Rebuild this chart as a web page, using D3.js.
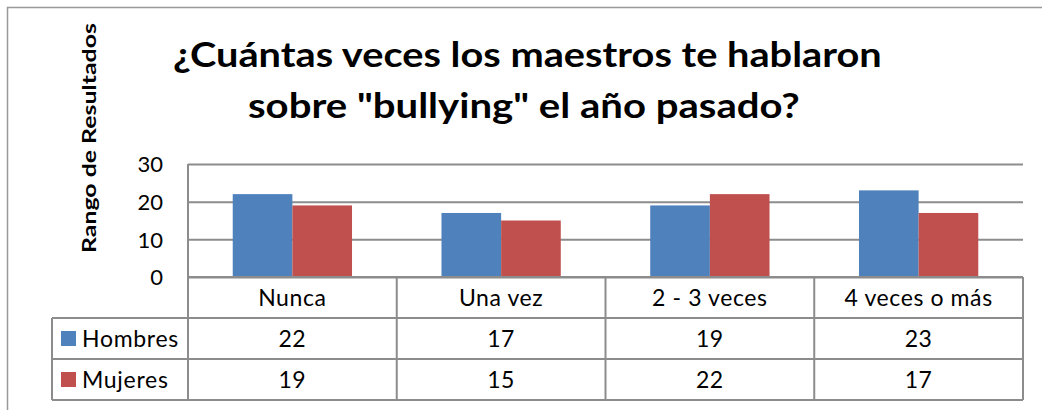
<!DOCTYPE html>
<html>
<head>
<meta charset="utf-8">
<script src="https://cdn.jsdelivr.net/npm/d3@7"></script>
<style>
  body { margin: 0; background: #fff; }
  svg { display: block; font-family: Lato, "Open Sans", sans-serif; }
</style>
</head>
<body>
<svg id="chart" width="1042" height="410"></svg>
<script>
// data
const categories = ["Nunca", "Una vez", "2 - 3 veces", "4 veces o más"];
const seriesNames = ["Hombres", "Mujeres"];
const hombres = [22, 17, 19, 23];
const mujeres = [19, 15, 22, 17];
const yTicks = [0, 10, 20, 30];
const titleLines = ["¿Cuántas veces los maestros te hablaron", "sobre \"bullying\" el año pasado?"];
const yTitle = "Rango de Resultados";

const colors = { Hombres: "#4F81BD", Mujeres: "#C0504D" };
const lineColor = "#8c8c8c";

const plot = { left: 188, right: 1023, top: 164, bottom: 277 };
const rowH = 41;
const legendLeft = 52;
const cellFont = 23;

const svg = d3.select("#chart");

// outer frame (clipped by the window at right/bottom)
svg.append("rect")
    .attr("x", 7.5).attr("y", 7.5)
    .attr("width", 1045).attr("height", 420)
    .attr("fill", "none")
    .attr("stroke", "#999")
    .attr("stroke-width", 1.5);

// scales
const x0 = d3.scaleBand()
    .domain(categories)
    .range([plot.left, plot.right])
    .padding(0);

const x1 = d3.scaleBand()
    .domain(seriesNames)
    .range([0, x0.bandwidth()])
    .paddingInner(0)
    .paddingOuter(0.75);

const y = d3.scaleLinear()
    .domain([0, 30])
    .range([plot.bottom, plot.top]);

const rows = seriesNames.map((name, i) => ({
    name: name,
    values: i === 0 ? hombres : mujeres
}));

// stretch a text along its baseline so it spans a given width
function fitWidth(sel, width) {
    const w = sel.node().getComputedTextLength();
    return width / w;
}

// title (two lines, widened to the width of the original)
const titleSpecs = [
    { text: titleLines[0], x: 173, y: 67, width: 709 },
    { text: titleLines[1], x: 248, y: 118, width: 552 }
];
titleSpecs.forEach(t => {
    const txt = svg.append("text")
        .attr("font-weight", "bold")
        .attr("font-size", 35)
        .text(t.text);
    const s = fitWidth(txt, t.width);
    txt.attr("transform", `translate(${t.x},${t.y}) scale(${s},1)`);
});

// y axis title
const yt = svg.append("text")
    .attr("font-weight", "bold")
    .attr("font-size", 19)
    .text(yTitle);
const ys = fitWidth(yt, 230);
yt.attr("transform", `translate(96,253) rotate(-90) scale(${ys},1)`);

// gridlines
const yAxis = d3.axisLeft(y)
    .tickValues(yTicks)
    .tickSize(-(plot.right - plot.left))
    .tickPadding(25);

const yg = svg.append("g")
    .attr("transform", `translate(${plot.left},0)`)
    .call(yAxis);
yg.select(".domain").remove();
yg.selectAll(".tick line")
    .attr("stroke", lineColor)
    .attr("stroke-width", 2);
yg.selectAll(".tick text")
    .attr("font-size", 22)
    .attr("font-family", "Lato, sans-serif")
    .attr("fill", "#000")
    .attr("dy", "0.35em");

// bars
const groups = svg.append("g")
    .selectAll("g")
    .data(categories)
    .join("g")
    .attr("transform", d => `translate(${x0(d)},0)`);

groups.selectAll("rect")
    .data((d, i) => rows.map(r => ({ key: r.name, value: r.values[i] })))
    .join("rect")
    .attr("x", d => x1(d.key))
    .attr("y", d => y(d.value))
    .attr("width", x1.bandwidth())
    .attr("height", d => y(0) - y(d.value))
    .attr("fill", d => colors[d.key]);

// data table
const table = svg.append("g")
    .attr("stroke", lineColor)
    .attr("stroke-width", 2)
    .attr("fill", "none");

const tableBottom = plot.bottom + rowH * 3;

// horizontal lines
table.append("line")
    .attr("x1", plot.left).attr("x2", plot.right)
    .attr("y1", plot.bottom).attr("y2", plot.bottom);
[1, 2, 3].forEach(k => {
    table.append("line")
        .attr("x1", legendLeft).attr("x2", plot.right)
        .attr("y1", plot.bottom + rowH * k).attr("y2", plot.bottom + rowH * k);
});

// vertical lines
table.append("line")
    .attr("x1", plot.left).attr("x2", plot.left)
    .attr("y1", plot.top).attr("y2", tableBottom);
categories.forEach(c => {
    const xr = x0(c) + x0.bandwidth();
    table.append("line")
        .attr("x1", xr).attr("x2", xr)
        .attr("y1", plot.bottom).attr("y2", tableBottom);
});
table.append("line")
    .attr("x1", legendLeft).attr("x2", legendLeft)
    .attr("y1", plot.bottom + rowH).attr("y2", tableBottom);

// category labels
svg.append("g")
    .selectAll("text")
    .data(categories)
    .join("text")
    .attr("x", d => x0(d) + x0.bandwidth() / 2)
    .attr("y", plot.bottom + rowH / 2)
    .attr("dy", "0.35em")
    .attr("text-anchor", "middle")
    .attr("font-size", cellFont)
    .attr("letter-spacing", 0.6)
    .text(d => d);

// value rows
rows.forEach((r, ri) => {
    const cy = plot.bottom + rowH * (ri + 1) + rowH / 2;
    svg.append("rect")
        .attr("x", 61).attr("y", cy - 7.5)
        .attr("width", 15).attr("height", 15)
        .attr("fill", colors[r.name]);
    svg.append("text")
        .attr("x", 82).attr("y", cy)
        .attr("dy", "0.35em")
        .attr("font-size", cellFont)
        .attr("letter-spacing", 0.7)
        .text(r.name);
    svg.append("g")
        .selectAll("text")
        .data(r.values)
        .join("text")
        .attr("x", (d, i) => x0(categories[i]) + x0.bandwidth() / 2)
        .attr("y", cy)
        .attr("dy", "0.35em")
        .attr("text-anchor", "middle")
        .attr("font-size", cellFont)
        .attr("letter-spacing", 0.6)
        .text(d => d);
});
</script>
</body>
</html>
